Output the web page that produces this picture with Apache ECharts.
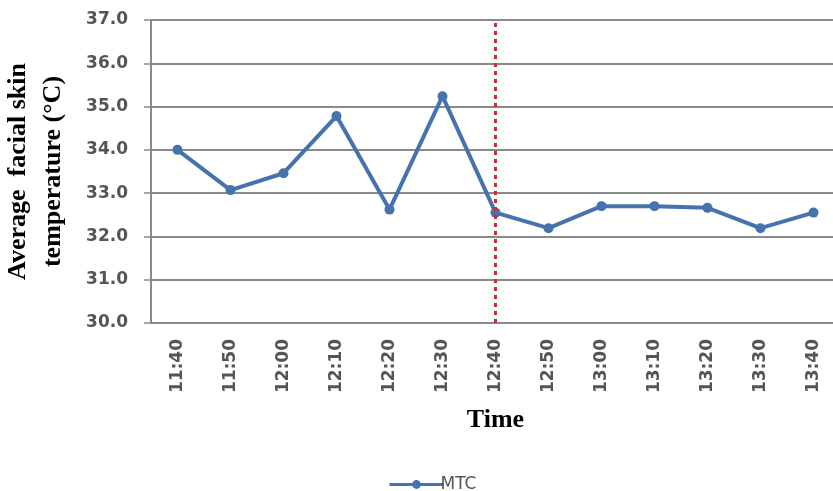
<!DOCTYPE html>
<html>
<head>
<meta charset="utf-8">
<script src="https://cdn.jsdelivr.net/npm/echarts@6/dist/echarts.min.js"></script>
<style>
  html, body { margin: 0; padding: 0; background: #fff; }
  #chart { width: 833px; height: 491px; }
</style>
</head>
<body>
<div id="chart"></div>
<script>
  // data
  var times = ['11:40', '11:50', '12:00', '12:10', '12:20', '12:30', '12:40',
               '12:50', '13:00', '13:10', '13:20', '13:30', '13:40'];
  var mtc = [34.0, 33.07, 33.46, 34.78, 32.62, 35.24, 32.55,
             32.19, 32.70, 32.70, 32.66, 32.19, 32.55];
  var markTime = '12:40';

  var gray = '#8a8a8a';
  var textGray = '#555555';
  var serif = '"Liberation Serif", "Times New Roman", serif';
  var sans = '"DejaVu Sans", Verdana, sans-serif';

  var chart = echarts.init(document.getElementById('chart'));

  chart.setOption({
    animation: false,
    backgroundColor: '#fff',
    grid: {
      left: 151,
      right: -7,
      top: 20,
      bottom: 168,
      outerBoundsMode: 'none',
      containLabel: false
    },
    legend: {
      left: 383,
      top: 471,
      itemWidth: 54,
      itemHeight: 11,
      itemGap: 0,
      lineStyle: { width: 3 },
      textStyle: { fontFamily: sans, fontSize: 17, color: textGray, padding: [0, 0, 0, -8] },
      data: ['MTC']
    },
    xAxis: {
      type: 'category',
      data: times,
      name: 'Time',
      nameLocation: 'middle',
      nameGap: 84,
      nameTextStyle: { fontFamily: serif, fontWeight: 'bold', fontSize: 26, color: '#000' },
      axisLine: { lineStyle: { color: gray, width: 2 } },
      axisTick: { length: 8, lineStyle: { color: gray, width: 1.5 } },
      axisLabel: {
        rotate: 90,
        margin: 16,
        fontFamily: sans,
        fontWeight: 'bold',
        fontSize: 17,
        color: textGray
      }
    },
    yAxis: {
      type: 'value',
      min: 30,
      max: 37,
      interval: 1,
      name: 'Average  facial skin\ntemperature (°C)',
      nameLocation: 'middle',
      nameGap: 80,
      nameTextStyle: { fontFamily: serif, fontWeight: 'bold', fontSize: 26, color: '#000', lineHeight: 35 },
      axisLine: { show: true, lineStyle: { color: gray, width: 2 } },
      axisTick: { show: true, length: 7, lineStyle: { color: gray, width: 1.5 } },
      splitLine: { lineStyle: { color: gray, width: 2 } },
      axisLabel: {
        margin: 23,
        fontFamily: sans,
        fontWeight: 'bold',
        fontSize: 17,
        color: textGray,
        formatter: function (v) { return v.toFixed(1); }
      }
    },
    series: [{
      name: 'MTC',
      type: 'line',
      data: mtc,
      symbol: 'circle',
      symbolSize: 10,
      itemStyle: { color: '#4673ad' },
      lineStyle: { color: '#4673ad', width: 4 },
      markLine: {
        silent: true,
        symbol: 'none',
        label: { show: false },
        lineStyle: { color: '#c0303a', type: [4, 4], width: 3 },
        data: [{ xAxis: markTime }]
      }
    }]
  });
</script>
</body>
</html>
